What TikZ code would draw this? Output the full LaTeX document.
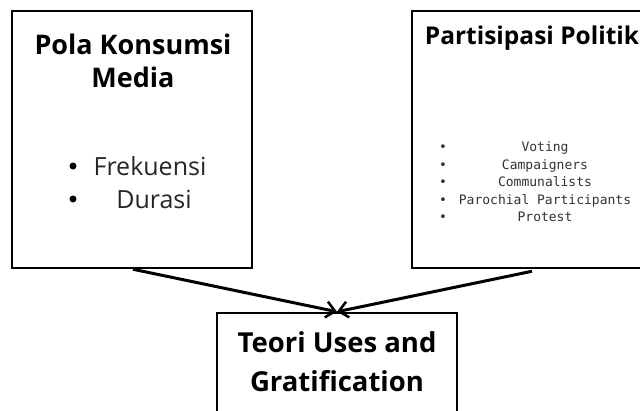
\documentclass[tikz,border=0pt]{standalone}
\usepackage{fontspec}
\setmainfont{Open Sans}
\setmonofont{DejaVu Sans Mono}
\usetikzlibrary{arrows.meta,calc}
\definecolor{listgray}{HTML}{333333}
\begin{document}
\begin{tikzpicture}[x=1pt,y=1pt,
  box/.style={draw=black,line width=2.5pt,fill=white,inner sep=0pt},
  ttl/.style={font=\fontsize{27}{33}\selectfont\bfseries,align=center,text=black},
  item/.style={font=\fontsize{25}{30}\selectfont,text=black!85,anchor=base},
  dot/.style={circle,fill=black,inner sep=0pt,minimum size=7pt},
  mono/.style={font=\ttfamily\fontsize{13}{18}\selectfont,text=listgray,anchor=base},
  conn/.style={line width=3pt,-{Straight Barb[length=9pt,width=16pt,line width=2.5pt]}}]
\useasboundingbox (0,0) rectangle (640,-410);
\clip (0,0) rectangle (640,-410);
% boxes
\node[box,minimum width=240pt,minimum height=257pt] (L) at (132,-139.5) {};
\node[box,minimum width=235pt,minimum height=257pt] (R) at (529.5,-139.5) {};
\node[box,minimum width=240pt,minimum height=110pt] (B) at (337,-368) {};
% left content
\node[ttl] (Lt) at (133,-61) {Pola Konsumsi\\Media};
\node[item] (f1) at (150,-175) {Frekuensi};
\node[item] (f2) at (154,-208) {Durasi};
\node[dot] (b1) at (73,-166) {};
\node[dot] (b2) at (73,-199) {};
% right content
\node[ttl,font=\fontsize{24.5}{30}\selectfont\bfseries] (Rt) at (532,-38) {Partisipasi Politik};
\node[mono] (v1) at (545,-151) {Voting};
\node[mono] (v2) at (545,-169) {Campaigners};
\node[mono] (v3) at (545,-186.5) {Communalists};
\node[mono] (v4) at (545,-204) {Parochial Participants};
\node[mono] (v5) at (545,-221.5) {Protest};
\foreach \y/\n in {-151/1,-169/2,-186.5/3,-204/4,-221.5/5}
  \node[mono] (rb\n) at (443,\y) {\textbullet};
% bottom content
\node[ttl,font=\fontsize{27.5}{39}\selectfont\bfseries] (Bt) at (337,-362) {Teori Uses and\\Gratification};
% arrows
\draw[conn] ($(L.south)+(1,0)$) -- (B.north);
\draw[conn] ($(R.south)+(2.5,-2)$) -- (B.north);
\end{tikzpicture}
\end{document}
